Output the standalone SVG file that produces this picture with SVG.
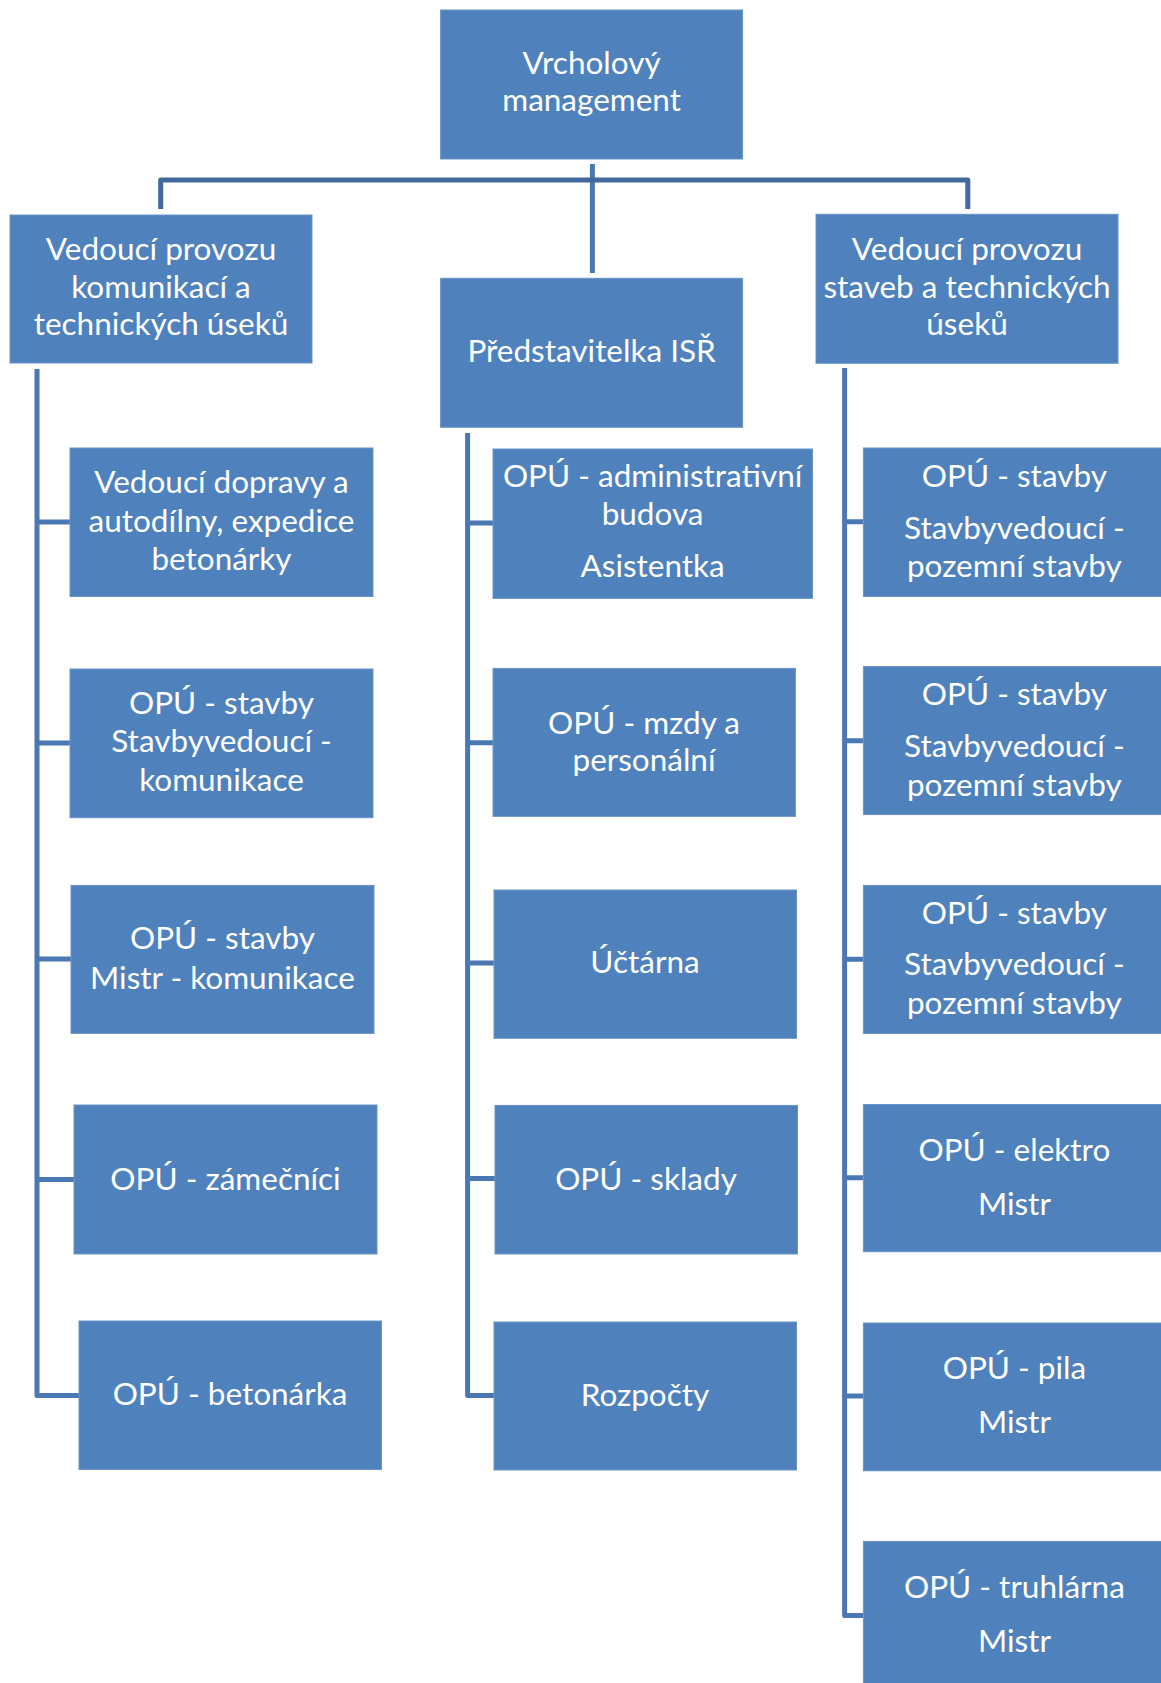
<svg xmlns="http://www.w3.org/2000/svg" width="1161" height="1683" viewBox="0 0 1161 1683">
<style>
.box{fill:#4f81bd;stroke:#6a95c9;stroke-width:1}
.t{font-family:Lato,"Open Sans","Liberation Sans",sans-serif;font-size:31.5px;fill:#ffffff;text-anchor:middle}
.c{fill:none;stroke:#4a78b2;stroke-width:5;stroke-linejoin:round;stroke-linecap:butt}
</style>
<rect width="1161" height="1683" fill="#ffffff"/>
<g id="connectors">
<path class="c" d="M592.4 164V273"/>
<path class="c" d="M160.7 209V180H967.8V209" style="stroke:#41699c"/>
<path class="c" d="M37 369V1395.5H79M37 522H70M37 743H70M37 959H71M37 1179.5H74"/>
<path class="c" d="M467.6 433V1395.5H494M467.6 523H493M467.6 742.7H493M467.6 963H494M467.6 1178.6H495"/>
<path class="c" d="M844.6 368V1615.4H863.4M844.6 521.8H863.4M844.6 740.8H863.4M844.6 959.3H863.4M844.6 1177.7H863.4M844.6 1396H863.4"/>
</g>
<g id="n_top"><rect class="box" x="440.6" y="10" width="302" height="149"/>
<text class="t" x="591.6" y="74">Vrcholový</text><text class="t" x="591.6" y="111">management</text></g>
<g id="n_left"><rect class="box" x="10" y="215" width="302" height="148"/>
<text class="t" x="161" y="260">Vedoucí provozu</text><text class="t" x="161" y="297.5">komunikací a</text><text class="t" x="161" y="335">technických úseků</text></g>
<g id="n_center"><rect class="box" x="440.6" y="278.3" width="302" height="149"/>
<text class="t" x="591.6" y="362">Představitelka ISŘ</text></g>
<g id="n_right"><rect class="box" x="816" y="214.3" width="302" height="149"/>
<text class="t" x="967" y="260">Vedoucí provozu</text><text class="t" x="967" y="297.5">staveb a technických</text><text class="t" x="967" y="335">úseků</text></g>

<g id="l1"><rect class="box" x="70" y="448" width="303" height="148.5"/>
<text class="t" x="221.5" y="493">Vedoucí dopravy a</text><text class="t" x="221.5" y="532">autodílny, expedice</text><text class="t" x="221.5" y="570">betonárky</text></g>
<g id="l2"><rect class="box" x="70" y="669" width="303" height="148.7"/>
<text class="t" x="221.5" y="714">OPÚ - stavby</text><text class="t" x="221.5" y="752">Stavbyvedoucí -</text><text class="t" x="221.5" y="790.5">komunikace</text></g>
<g id="l3"><rect class="box" x="71" y="885.4" width="303" height="148"/>
<text class="t" x="222.5" y="949">OPÚ - stavby</text><text class="t" x="222.5" y="988.7">Mistr - komunikace</text></g>
<g id="l4"><rect class="box" x="74" y="1105" width="303" height="149"/>
<text class="t" x="225.5" y="1189.5">OPÚ - zámečníci</text></g>
<g id="l5"><rect class="box" x="79" y="1321" width="302.5" height="148.5"/>
<text class="t" x="230" y="1405">OPÚ - betonárka</text></g>

<g id="c1"><rect class="box" x="493" y="449" width="319.5" height="149.4"/>
<text class="t" x="652.6" y="487.4">OPÚ - administrativní</text><text class="t" x="652.6" y="525">budova</text><text class="t" x="652.6" y="577.3">Asistentka</text></g>
<g id="c2"><rect class="box" x="493" y="668.4" width="302.4" height="148"/>
<text class="t" x="644" y="733.5">OPÚ - mzdy a</text><text class="t" x="644" y="770.6">personální</text></g>
<g id="c3"><rect class="box" x="494" y="890" width="302.5" height="148.3"/>
<text class="t" x="645" y="972.7">Účtárna</text></g>
<g id="c4"><rect class="box" x="495" y="1105.4" width="302.5" height="148.6"/>
<text class="t" x="646" y="1189.5">OPÚ - sklady</text></g>
<g id="c5"><rect class="box" x="494" y="1322" width="302.5" height="148"/>
<text class="t" x="645" y="1406">Rozpočty</text></g>

<g id="r1"><rect class="box" x="863.4" y="448" width="302" height="148.5"/>
<text class="t" x="1014.4" y="486.6">OPÚ - stavby</text><text class="t" x="1014.4" y="539">Stavbyvedoucí -</text><text class="t" x="1014.4" y="577.3">pozemní stavby</text></g>
<g id="r2"><rect class="box" x="863.4" y="666.5" width="302" height="148.1"/>
<text class="t" x="1014.4" y="704.8">OPÚ - stavby</text><text class="t" x="1014.4" y="757.2">Stavbyvedoucí -</text><text class="t" x="1014.4" y="795.5">pozemní stavby</text></g>
<g id="r3"><rect class="box" x="863.4" y="885.4" width="302" height="148.1"/>
<text class="t" x="1014.4" y="923.7">OPÚ - stavby</text><text class="t" x="1014.4" y="975.4">Stavbyvedoucí -</text><text class="t" x="1014.4" y="1013.6">pozemní stavby</text></g>
<g id="r4"><rect class="box" x="863.4" y="1104.5" width="302" height="147.2"/>
<text class="t" x="1014.4" y="1161">OPÚ - elektro</text><text class="t" x="1014.4" y="1214.7">Mistr</text></g>
<g id="r5"><rect class="box" x="863.4" y="1323" width="302" height="147.8"/>
<text class="t" x="1014.4" y="1379">OPÚ - pila</text><text class="t" x="1014.4" y="1432.5">Mistr</text></g>
<g id="r6"><rect class="box" x="863.4" y="1541.4" width="302" height="148.6"/>
<text class="t" x="1014.4" y="1598">OPÚ - truhlárna</text><text class="t" x="1014.4" y="1652">Mistr</text></g>
</svg>
